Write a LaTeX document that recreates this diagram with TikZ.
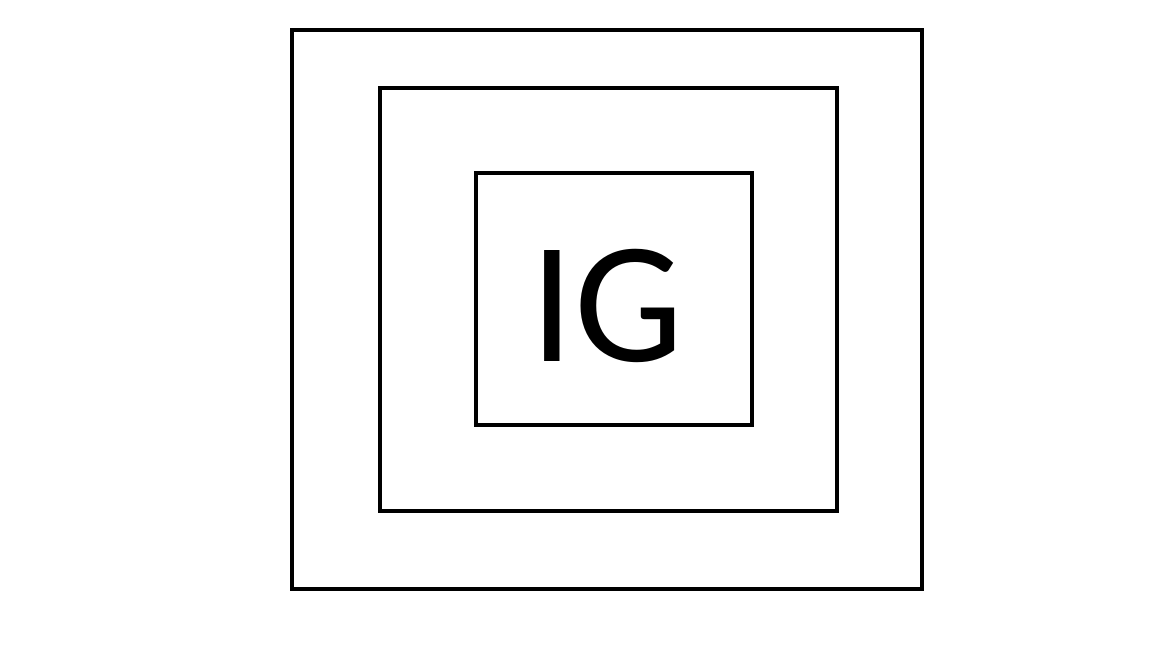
\documentclass[tikz,border=0pt]{standalone}
\usepackage{fontspec}
\setmainfont{Carlito}
\begin{document}
\begin{tikzpicture}[x=1pt,y=-1pt,box/.style={draw=black,line width=4.5pt}]
\useasboundingbox (0,0) rectangle (1152,648);
\draw[box] (292,30) rectangle (922,589);
\draw[box] (380,88) rectangle (837,511);
\draw[box] (476,173) rectangle (752,425);
\node (ig) at (607,306) {\fontsize{173}{173}\selectfont IG};
\end{tikzpicture}
\end{document}
